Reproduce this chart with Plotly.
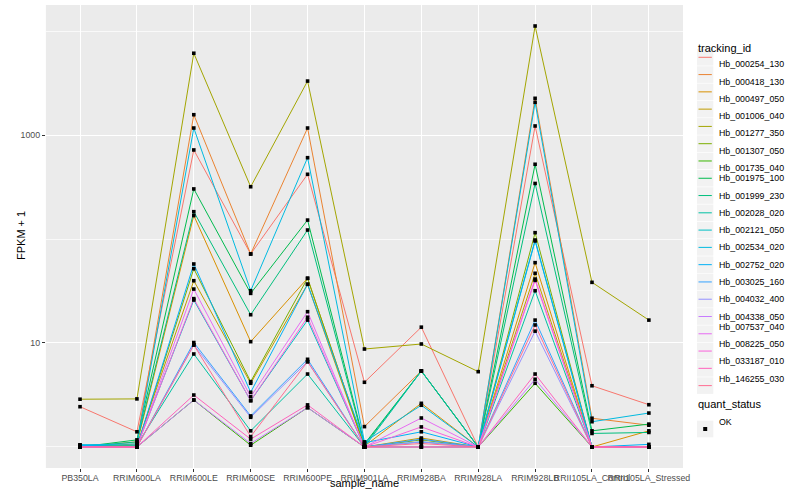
import plotly.graph_objects as go

categories = ["PB350LA", "RRIM600LA", "RRIM600LE", "RRIM600SE", "RRIM600PE",
              "RRIM901LA", "RRIM928BA", "RRIM928LA", "RRIM928LB",
              "RRII105LA_Control", "RRII105LA_Stressed"]

tracking_ids = ["Hb_000254_130", "Hb_000418_130", "Hb_000497_050", "Hb_001006_040",
                "Hb_001277_350", "Hb_001307_050", "Hb_001735_040", "Hb_001975_100",
                "Hb_001999_230", "Hb_002028_020", "Hb_002121_050", "Hb_002534_020",
                "Hb_002752_020", "Hb_003025_160", "Hb_004032_400", "Hb_004338_050",
                "Hb_007537_040", "Hb_008225_050", "Hb_033187_010", "Hb_146255_030"]

colors = ["#F8766D", "#EA8331", "#D89000", "#C09B00", "#A3A500", "#7CAE00", "#39B600",
          "#00BB4E", "#00BF7D", "#00C1A3", "#00BFC4", "#00BAE0", "#00B0F6", "#35A2FF",
          "#9590FF", "#C77CFF", "#E76BF3", "#FA62DB", "#FF62BC", "#FF6C91"]

# FPKM + 1 per category (order of `categories`)
hb_000254_130 = [2.44, 1.40, 718, 71.8, 419, 4.19, 14.2, 1.00, 1221, 3.88, 2.55]
hb_000418_130 = [1.00, 1.12, 1567, 71.8, 1167, 1.57, 5.38, 1.00, 2253, 1.89, 1.62]
hb_000497_050 = [1.00, 1.07, 168, 10.3, 41.9, 1.02, 2.63, 1.00, 59.2, 1.00, 1.43]
hb_001006_040 = [1.00, 1.04, 39.7, 4.10, 36.7, 1.00, 1.22, 1.00, 46.8, 1.00, 1.00]
hb_001277_350 = [2.88, 2.90, 6110, 318, 3300, 8.75, 9.78, 5.30, 11170, 38.3, 16.6]
hb_001307_050 = [1.00, 1.00, 51.8, 4.25, 41.9, 1.00, 1.17, 1.00, 115, 1.00, 1.00]
hb_001735_040 = [1.00, 1.00, 2.83, 1.04, 2.39, 1.00, 1.00, 1.00, 4.10, 1.00, 1.00]
hb_001975_100 = [1.00, 1.17, 303, 30.0, 152, 1.07, 5.38, 1.00, 523, 1.43, 1.66]
hb_001999_230 = [1.00, 1.12, 183, 18.7, 122, 1.04, 5.38, 1.00, 342, 1.35, 1.38]
hb_002028_020 = [1.04, 1.04, 7.84, 1.43, 5.03, 1.00, 5.38, 1.00, 31.8, 1.00, 1.00]
hb_002121_050 = [1.00, 1.02, 25.9, 2.79, 16.6, 1.00, 1.12, 1.00, 95.7, 1.00, 1.00]
hb_002534_020 = [1.05, 1.07, 1167, 31.8, 605, 1.12, 2.52, 1.00, 2061, 1.75, 2.12]
hb_002752_020 = [1.04, 1.00, 57.5, 3.36, 36.7, 1.10, 1.40, 1.00, 97.8, 1.00, 1.06]
hb_003025_160 = [1.00, 1.00, 10.1, 1.99, 6.97, 1.00, 1.19, 1.00, 16.6, 1.00, 1.00]
hb_004032_400 = [1.00, 1.00, 9.57, 1.93, 6.61, 1.00, 1.12, 1.00, 13.0, 1.00, 1.00]
hb_004338_050 = [1.00, 1.00, 2.83, 1.08, 2.39, 1.00, 1.00, 1.00, 4.48, 1.00, 1.00]
hb_007537_040 = [1.00, 1.00, 33.0, 3.05, 20.0, 1.00, 1.90, 1.00, 41.2, 1.00, 1.00]
hb_008225_050 = [1.00, 1.00, 26.7, 2.79, 17.7, 1.00, 1.56, 1.00, 40.0, 1.00, 1.00]
hb_033187_010 = [1.00, 1.00, 3.16, 1.19, 2.54, 1.00, 1.00, 1.00, 5.03, 1.00, 1.00]
hb_146255_030 = [1.00, 1.00, 9.57, 1.26, 6.61, 1.00, 1.08, 1.00, 14.9, 1.00, 1.00]

series = [hb_000254_130, hb_000418_130, hb_000497_050, hb_001006_040, hb_001277_350,
          hb_001307_050, hb_001735_040, hb_001975_100, hb_001999_230, hb_002028_020,
          hb_002121_050, hb_002534_020, hb_002752_020, hb_003025_160, hb_004032_400,
          hb_004338_050, hb_007537_040, hb_008225_050, hb_033187_010, hb_146255_030]

y_ticks = [10, 1000]
y_minor = [1, 100, 10000]
quant_status = ["OK"]

W, H = 800, 500
FONT = "Liberation Sans, Arial, Helvetica, sans-serif"

fig = go.Figure()
for name, col, vals in zip(tracking_ids, colors, series):
    fig.add_trace(go.Scatter(x=categories, y=vals, mode="lines", name=name,
                             line=dict(color=col, width=1), showlegend=False))

px_all, py_all = [], []
for vals in series:
    px_all += categories
    py_all += vals
fig.add_trace(go.Scatter(x=px_all, y=py_all, mode="markers", name=quant_status[0],
                         marker=dict(symbol="square", size=3.6, color="black"),
                         showlegend=False))

fig.update_layout(
    width=W, height=H,
    margin=dict(l=0, r=0, t=0, b=0, pad=0, autoexpand=False),
    paper_bgcolor="white", plot_bgcolor="#EBEBEB",
    font=dict(family=FONT, color="black"),
    showlegend=False, hovermode=False,
)
fig.update_xaxes(
    domain=[45.9 / W, 683 / W], type="category",
    categoryorder="array", categoryarray=categories, range=[-0.6, 10.6],
    showgrid=True, gridcolor="white", gridwidth=1, zeroline=False, showline=False,
    ticks="outside", ticklen=3, tickwidth=1, tickcolor="#333333", tickangle=0,
    ticklabelstandoff=-2,
    tickfont=dict(size=8.8, color="#4D4D4D", family=FONT), automargin=False,
)
fig.update_yaxes(
    domain=[32 / H, 495 / H], type="log", range=[-0.202, 4.25],
    tickmode="array", tickvals=y_ticks, ticktext=[str(v) for v in y_ticks],
    showgrid=True, gridcolor="white", gridwidth=1, zeroline=False, showline=False,
    minor=dict(tickmode="array", tickvals=y_minor, showgrid=True, gridcolor="white",
               gridwidth=0.7, ticks=""),
    ticks="outside", ticklen=3, tickwidth=1, tickcolor="#333333",
    tickfont=dict(size=8.8, color="#4D4D4D", family=FONT), automargin=False,
)

def px2p(x, y):
    return x / W, 1 - y / H

annotations = [
    dict(text="sample_name", x=364 / W, y=1 - 490.5 / H, xref="paper", yref="paper",
         showarrow=False, font=dict(size=11, color="black")),
    dict(text="FPKM + 1", x=13 / W, y=1 - 236 / H, xref="paper", yref="paper",
         showarrow=False, textangle=-90, font=dict(size=11, color="black")),
    dict(text="tracking_id", x=696 / W, y=1 - 40.5 / H, xref="paper", yref="paper",
         xanchor="left", showarrow=False, font=dict(size=11, color="black")),
    dict(text="quant_status", x=696 / W, y=1 - 412 / H, xref="paper", yref="paper",
         xanchor="left", showarrow=False, font=dict(size=11, color="black")),
]
shapes = []

step = 17.28
for i, (name, col) in enumerate(zip(tracking_ids, colors)):
    cy = 57.3 + i * step
    x0, y0 = px2p(697, cy - 8.3)
    x1, y1 = px2p(713.3, cy + 8.3)
    shapes.append(dict(type="rect", xref="paper", yref="paper", x0=x0, x1=x1, y0=y0, y1=y1,
                       fillcolor="#F2F2F2", line=dict(width=0)))
    lx0, ly = px2p(698.5, cy)
    lx1, _ = px2p(711.8, cy)
    shapes.append(dict(type="line", xref="paper", yref="paper", x0=lx0, x1=lx1, y0=ly, y1=ly,
                       line=dict(color=col, width=1)))
    annotations.append(dict(text=name, x=717 / W, y=ly, xref="paper", yref="paper",
                            xanchor="left", showarrow=False,
                            font=dict(size=8.8, color="black")))

# quant_status key
cy = 429
x0, y0 = px2p(697, cy - 8.3)
x1, y1 = px2p(713.3, cy + 8.3)
shapes.append(dict(type="rect", xref="paper", yref="paper", x0=x0, x1=x1, y0=y0, y1=y1,
                   fillcolor="#F2F2F2", line=dict(width=0)))
sx0, sy0 = px2p(703.2, cy - 2)
sx1, sy1 = px2p(707.2, cy + 2)
shapes.append(dict(type="rect", xref="paper", yref="paper", x0=sx0, x1=sx1, y0=sy0, y1=sy1,
                   fillcolor="black", line=dict(width=0)))
annotations.append(dict(text=quant_status[0], x=717 / W, y=1 - cy / H, xref="paper", yref="paper",
                        xanchor="left", showarrow=False, font=dict(size=8.8, color="black")))

fig.update_layout(annotations=annotations, shapes=shapes)
fig.write_html(
    "out.html",
    config={"displayModeBar": False, "staticPlot": True},
    post_script="document.body.style.margin='0';document.body.style.padding='0';"
                "document.body.style.overflow='hidden';",
)
